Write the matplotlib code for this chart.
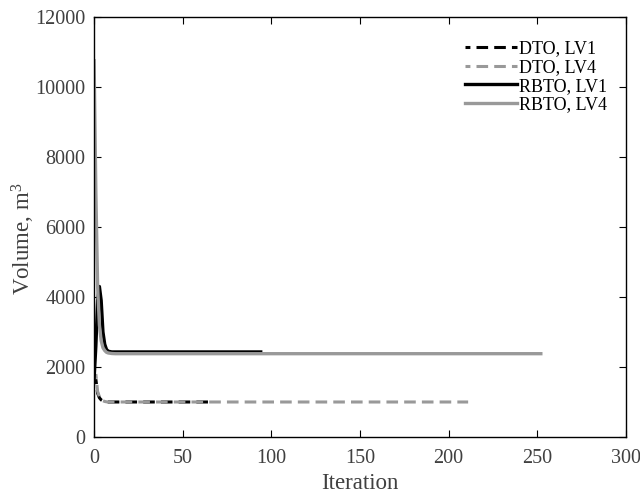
import matplotlib
matplotlib.use("Agg")
import matplotlib.pyplot as plt

plt.rcParams['font.family'] = ['Liberation Serif', 'DejaVu Serif']
plt.rcParams['mathtext.fontset'] = 'custom'
plt.rcParams['mathtext.rm'] = 'Liberation Serif'
plt.rcParams['mathtext.it'] = 'Liberation Serif:italic'

# Data
dto_lv1_x = [1, 2, 3, 4, 5, 6, 7, 8, 10, 66]
dto_lv1_y = [1650, 1250, 1120, 1060, 1030, 1015, 1005, 1000, 1000, 1000]

dto_lv4_x = [1, 2, 3, 4, 5, 6, 7, 8, 10, 211]
dto_lv4_y = [1800, 1300, 1150, 1070, 1035, 1015, 1005, 1000, 1000, 1000]

rbto_lv1_x = [0, 1, 2, 3, 4, 5, 6, 7, 8, 10, 12, 94]
rbto_lv1_y = [1650, 2600, 3900, 4300, 3900, 3000, 2650, 2500, 2450, 2430, 2430, 2430]

rbto_lv4_x = [0, 1, 2, 3, 4, 5, 6, 7, 8, 10, 12, 252]
rbto_lv4_y = [10750, 7000, 4300, 3200, 2750, 2550, 2470, 2420, 2400, 2385, 2380, 2380]

gray = '#999999'
txt = '#404040'
fig = plt.figure(figsize=(6.4, 4.94), dpi=100)
ax = fig.add_axes([0.147, 0.1154, 0.831, 0.8502])

dash = (2.2, (3.8, 2.0))
ax.plot(dto_lv1_x, dto_lv1_y, color='black', lw=2.2, ls=dash, label='DTO, LV1')
ax.plot(dto_lv4_x, dto_lv4_y, color=gray, lw=2.2, ls=dash, label='DTO, LV4')
ax.plot(rbto_lv1_x, rbto_lv1_y, color='black', lw=2.4, label='RBTO, LV1')
ax.plot(rbto_lv4_x, rbto_lv4_y, color=gray, lw=2.4, label='RBTO, LV4')

ax.set_xlim(0, 300)
ax.set_ylim(0, 12000)
ax.set_xticks(range(0, 301, 50))
ax.set_yticks(range(0, 12001, 2000))
ax.tick_params(direction='in', top=True, right=True, labelsize=14.5, labelcolor=txt, length=5)
ax.tick_params(axis='x', pad=9)
ax.tick_params(axis='y', pad=6)
ax.set_xlabel('Iteration', fontsize=16.5, color=txt)
ax.set_ylabel('Volume, m$^3$', fontsize=16.5, color=txt)
ax.yaxis.set_label_coords(-0.108, 0.471)
ax.xaxis.set_label_coords(0.5, -0.086)
for s in ax.spines.values():
    s.set_linewidth(1.0)

leg = ax.legend(loc='upper right', frameon=False, fontsize=13, handlelength=2.9,
                handletextpad=0.1, labelspacing=0.1, borderaxespad=0, borderpad=0,
                bbox_to_anchor=(0.965, 0.945))

fig.savefig('out.png', dpi=100)
